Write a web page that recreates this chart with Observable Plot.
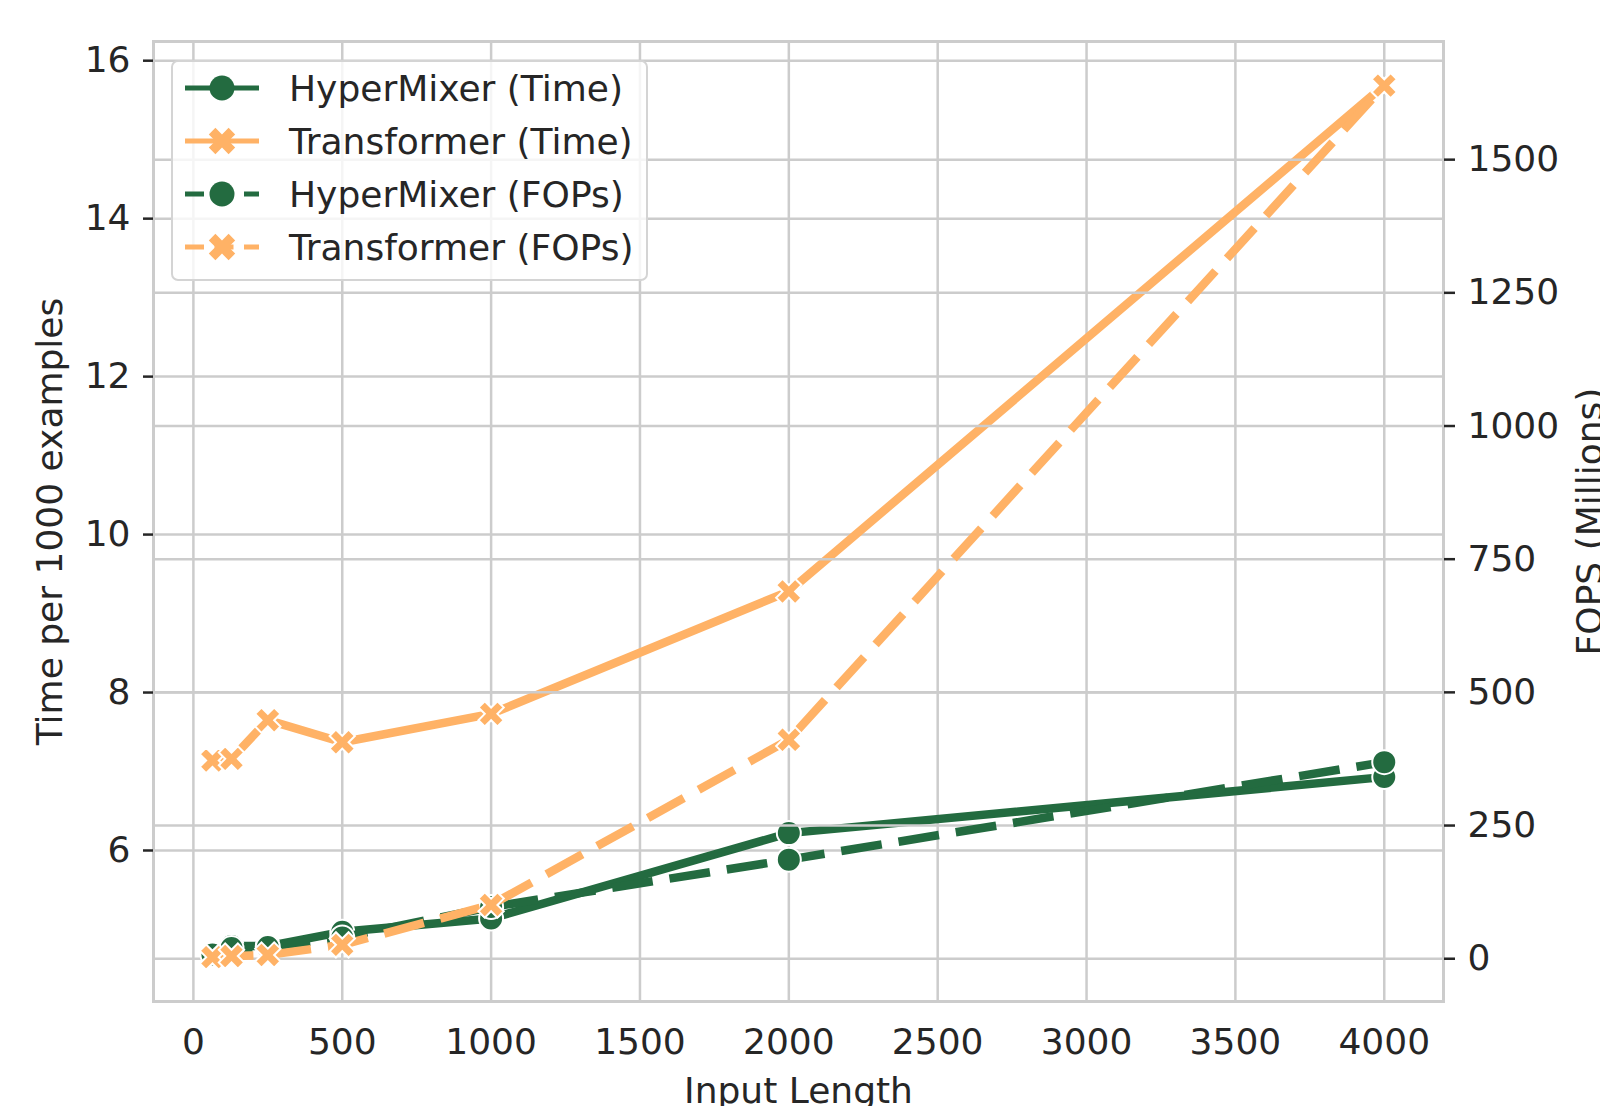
<!DOCTYPE html>
<html><head><meta charset="utf-8">
<script src="https://cdn.jsdelivr.net/npm/d3@7"></script>
<script src="https://cdn.jsdelivr.net/npm/@observablehq/plot@0.6"></script>
<style>
html,body{margin:0;padding:0;background:#fff;overflow:hidden}
#wrap{position:relative;width:1600px;height:1106px;font-family:"DejaVu Sans",sans-serif;color:#262626}
#legend{position:absolute;left:0;top:0;pointer-events:none}
</style></head><body><div id="wrap"></div>
<script>
// ---- data ----
const inputLength = [64, 128, 250, 500, 1000, 2000, 4000];
const hyperMixerTime = [4.69, 4.79, 4.79, 4.97, 5.14, 6.22, 6.93];
const transformerTime = [7.14, 7.16, 7.65, 7.37, 7.73, 9.28, 15.69];
const hyperMixerFops = [8, 20, 22, 40, 97, 186, 369];
const transformerFops = [3, 5, 7, 26, 101, 411, 1639];
const xTicks = [0, 500, 1000, 1500, 2000, 2500, 3000, 3500, 4000];
const timeTicks = [6, 8, 10, 12, 14, 16];
const fopsTicks = [0, 250, 500, 750, 1000, 1250, 1500];
const seriesNames = ["HyperMixer (Time)", "Transformer (Time)", "HyperMixer (FOPs)", "Transformer (FOPs)"];
const xLabel = "Input Length";
const yLabelLeft = "Time per 1000 examples";
const yLabelRight = "FOPS (Millions)";

const GREEN = "#236b40", ORANGE = "#ffb266", GRID = "#cccccc", INK = "#262626";
const FONT = "DejaVu Sans", FS = 36;

const timeDomain = [4.088, 16.243];
const fopsDomain = [-80.3, 1721.8];
// secondary (right) axis: map FOPs onto the primary y scale
const fopsToTime = d3.scaleLinear().domain(fopsDomain).range(timeDomain);

const rows = (ys, f = d => d) => inputLength.map((x, i) => ({x, y: f(ys[i])}));

// filled "X" marker (rotated filled plus)
const symbolX = {
  draw(ctx, size) {
    const r = Math.sqrt(size / Math.PI);
    const L = r * 1.12, w = L / 3;
    const pts = [[-w,-L],[w,-L],[w,-w],[L,-w],[L,w],[w,w],[w,L],[-w,L],[-w,w],[-L,w],[-L,-w],[-w,-w]];
    const c = Math.SQRT1_2;
    pts.forEach(([px, py], i) => {
      const qx = (px - py) * c, qy = (px + py) * c;
      if (i) ctx.lineTo(qx, qy); else ctx.moveTo(qx, qy);
    });
    ctx.closePath();
  }
};

const LW = 8.5, DASH = "41,17", R = 12;
const lineOpts = (color, dashed) => ({x: "x", y: "y", stroke: color, strokeWidth: LW,
  strokeDasharray: dashed ? DASH : null, strokeLinecap: dashed ? "butt" : "square", strokeLinejoin: "round"});
const dotOpts = (color, sym) => ({x: "x", y: "y", fill: color, stroke: "white", strokeWidth: 2, r: R, symbol: sym});

const hmT = rows(hyperMixerTime), tfT = rows(transformerTime);
const hmF = rows(hyperMixerFops, fopsToTime), tfF = rows(transformerFops, fopsToTime);

const chart = Plot.plot({
  width: 1600, height: 1106,
  marginLeft: 153, marginRight: 157, marginTop: 41, marginBottom: 105,
  style: {fontFamily: FONT, fontSize: FS + "px", color: INK, background: "white"},
  x: {domain: [-134, 4199], axis: null},
  y: {domain: timeDomain, axis: null},
  marks: [
    Plot.gridX(xTicks, {stroke: GRID, strokeOpacity: 1, strokeWidth: 2.5}),
    Plot.gridY(timeTicks, {stroke: GRID, strokeOpacity: 1, strokeWidth: 2.5}),
    Plot.line(hmT, lineOpts(GREEN, false)),
    Plot.dot(hmT, dotOpts(GREEN, "circle")),
    Plot.line(tfT, lineOpts(ORANGE, false)),
    Plot.dot(tfT, dotOpts(ORANGE, symbolX)),
    Plot.gridY(fopsTicks.map(fopsToTime), {stroke: GRID, strokeOpacity: 1, strokeWidth: 2.5}),
    Plot.line(hmF, lineOpts(GREEN, true)),
    Plot.dot(hmF, dotOpts(GREEN, "circle")),
    Plot.line(tfF, lineOpts(ORANGE, true)),
    Plot.dot(tfF, dotOpts(ORANGE, symbolX)),
    Plot.frame({stroke: GRID, strokeWidth: 3}),
    Plot.axisX(xTicks, {tickSize: 0, tickPadding: 27, fontSize: FS, label: null, tickFormat: d => String(d)}),
    Plot.axisY(timeTicks, {anchor: "left", tickSize: 10, tickPadding: 13, strokeWidth: 2.5, stroke: INK,
      fontSize: FS, label: null, tickFormat: d => String(d)}),
    Plot.axisY(fopsTicks.map(fopsToTime), {anchor: "right", tickSize: 11, tickPadding: 13, strokeWidth: 2.5, stroke: INK,
      fontSize: FS, label: null, tickFormat: d => String(Math.round(fopsToTime.invert(d)))}),
    Plot.text([xLabel], {frameAnchor: "bottom", text: d => d, dy: 101, lineAnchor: "bottom", textAnchor: "middle", fontSize: FS, fill: INK}),
    Plot.text([yLabelLeft], {frameAnchor: "left", text: d => d, rotate: -90, dx: -92, lineAnchor: "bottom", textAnchor: "middle", fontSize: FS, fill: INK}),
    Plot.text([yLabelRight], {frameAnchor: "right", text: d => d, rotate: -90, dx: 158, lineAnchor: "bottom", textAnchor: "middle", fontSize: FS, fill: INK})
  ]
});
const wrap = document.getElementById("wrap");
wrap.appendChild(chart);

// ---- legend (inside plot, upper left) ----
const legendItems = seriesNames.map((name, i) => ({
  name, color: i % 2 === 0 ? GREEN : ORANGE, sym: i % 2 === 0 ? "circle" : "x", dashed: i >= 2
}));
const lg = d3.select(wrap).append("svg").attr("id", "legend")
  .attr("width", 700).attr("height", 300)
  .style("font-family", FONT).style("font-size", FS + "px");
lg.append("rect").attr("x", 172).attr("y", 61).attr("width", 475).attr("height", 219)
  .attr("rx", 6).attr("fill", "white").attr("fill-opacity", 0.8)
  .attr("stroke", "#d4d4d4").attr("stroke-width", 2);
const rowY = [88, 141, 194, 247];
legendItems.forEach((it, i) => {
  const g = lg.append("g").attr("transform", `translate(0,${rowY[i]})`);
  g.append("line").attr("x1", 185).attr("x2", 259).attr("y1", 0).attr("y2", 0)
    .attr("stroke", it.color).attr("stroke-width", 5)
    .attr("stroke-dasharray", it.dashed ? "19,10.5" : null);
  if (it.sym === "circle") {
    g.append("circle").attr("cx", 222).attr("cy", 0).attr("r", 12.5).attr("fill", it.color);
  } else {
    g.append("path").attr("transform", "translate(222,0)")
      .attr("d", d3.symbol(symbolX, 12.5 * 12.5 * Math.PI)()).attr("fill", it.color);
  }
  g.append("text").attr("x", 289).attr("y", 13).attr("fill", INK).text(it.name);
});
</script>
</body></html>
